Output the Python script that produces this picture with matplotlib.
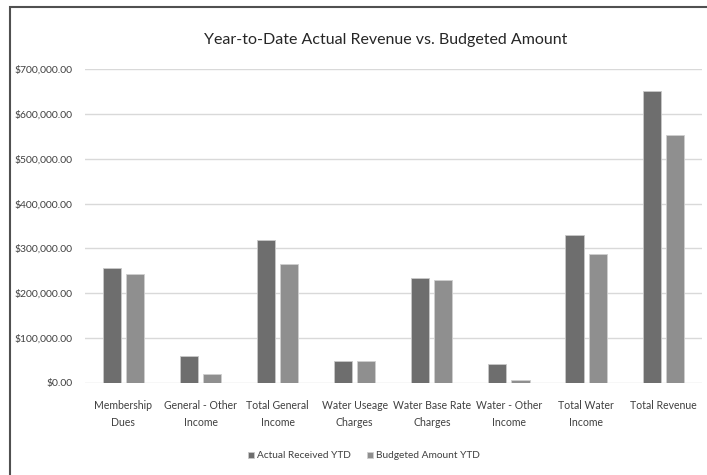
import matplotlib.pyplot as plt
import numpy as np
from matplotlib.patches import Rectangle
from matplotlib.ticker import FuncFormatter

plt.rcParams['font.family'] = ['Lato', 'DejaVu Sans']

categories = ['Membership\nDues', 'General - Other\nIncome', 'Total General\nIncome',
              'Water Useage\nCharges', 'Water Base Rate\nCharges', 'Water - Other\nIncome',
              'Total Water\nIncome', 'Total Revenue']
actual = [256000, 60000, 318000, 48500, 233500, 42500, 330000, 651000]
budget = [242000, 20000, 265000, 48500, 230000, 7000, 287000, 554000]
series_names = ['Actual Received YTD', 'Budgeted Amount YTD']

fig = plt.figure(figsize=(7.07, 4.75), dpi=100)
ax = fig.add_axes([0.120, 0.194, 0.8725, 0.66])

x = np.arange(len(categories))
w = 0.235
ax.bar(x - 0.15, actual, w, color='#6e6e6e', edgecolor='#c8c8c8', linewidth=0.6,
       label=series_names[0], zorder=3)
ax.bar(x + 0.15, budget, w, color='#8f8f8f', edgecolor='#cfcfcf', linewidth=0.6,
       label=series_names[1], zorder=3)

ax.set_xlim(-0.5, len(categories) - 0.5)
ax.set_ylim(0, 700000)
ax.set_yticks(np.arange(0, 700001, 100000))
ax.yaxis.set_major_formatter(FuncFormatter(lambda v, p: f'${v:,.2f}'))
ax.grid(axis='y', color='#d9d9d9', linewidth=1, zorder=0)
for s in ax.spines.values():
    s.set_visible(False)
ax.tick_params(axis='both', length=0, colors='#404040')
ax.tick_params(axis='y', pad=9, labelsize=7.5)
ax.tick_params(axis='x', pad=12, labelsize=7.6)
ax.set_xticks(x)
ax.set_xticklabels(categories, linespacing=1.75)

fig.text(0.545, 0.916, 'Year-to-Date Actual Revenue vs. Budgeted Amount',
         ha='center', va='center', fontsize=11.5, color='#262626')

fig.legend(loc='center', bbox_to_anchor=(0.515, 0.04), ncol=2, frameon=False,
           fontsize=7.3, handlelength=0.6, handleheight=0.6, handletextpad=0.3,
           columnspacing=1.6, labelcolor='#404040')

fig.add_artist(Rectangle((10 / 707, -0.1), 1.1, 1.1 - 7 / 475, transform=fig.transFigure,
                         fill=False, edgecolor='#505050', linewidth=1.5, clip_on=False))

fig.savefig('out.png', dpi=100)
